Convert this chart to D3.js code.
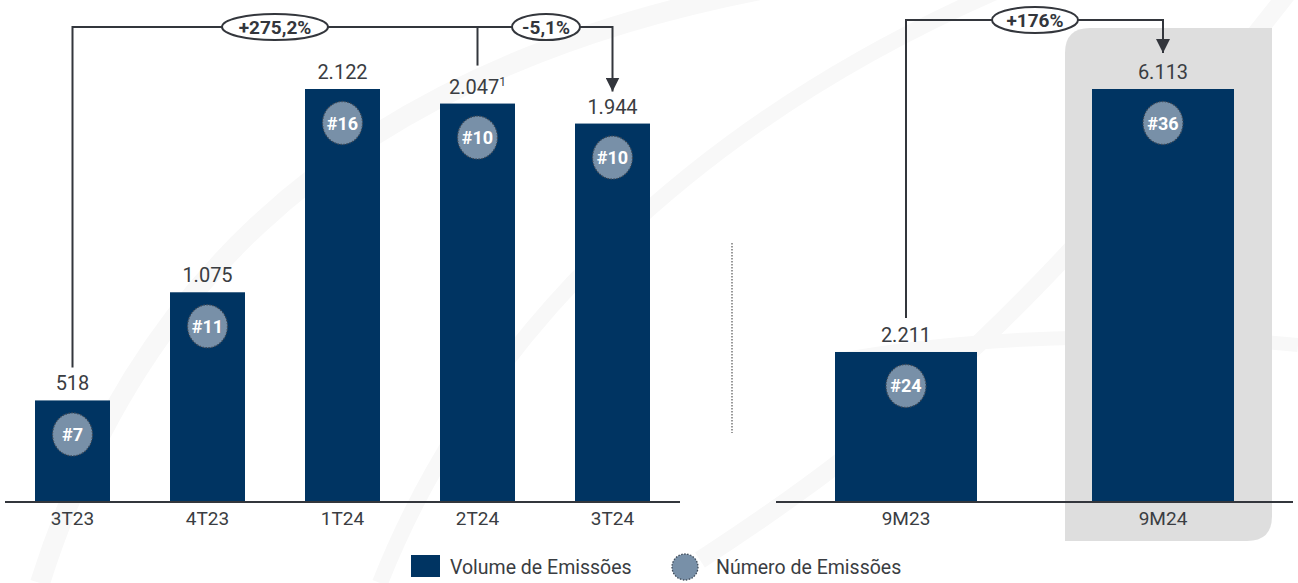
<!DOCTYPE html>
<html lang="pt">
<head>
  <meta charset="UTF-8">
  <title>Volume de Emissões</title>
  <script src="https://d3js.org/d3.v7.min.js"></script>
  <style>
    body { margin: 0; background: #fff; }
    svg text { font-family: Roboto, "Noto Sans", sans-serif; }
  </style>
</head>
<body>
<div id="chart"></div>
<script>
// quarterly data
const quarters = ["3T23", "4T23", "1T24", "2T24", "3T24"];
const quarterVolume = [518, 1075, 2122, 2047, 1944];
const quarterCount = [7, 11, 16, 10, 10];
const quarterLabels = ["518", "1.075", "2.122", "2.047", "1.944"];

// year to date data
const periods = ["9M23", "9M24"];
const periodVolume = [2211, 6113];
const periodCount = [24, 36];
const periodLabels = ["2.211", "6.113"];

const changeLabels = ["+275,2%", "-5,1%", "+176%"];

const W = 1298, H = 583;
const base = 501;
const navy = "#003462", bubble = "#7890a8", ink = "#33363c", txt = "#3a3d42";

const svg = d3.select("#chart").append("svg")
  .attr("width", W)
  .attr("height", H);

// faint decorative swooshes in the background
const bg = svg.append("g").attr("fill", "none").attr("stroke", "#f8f8f8");
bg.append("path").attr("d", "M40,583 C120,330 300,80 760,-10").attr("stroke-width", 20);
bg.append("path").attr("d", "M380,583 C480,330 700,120 1000,-10").attr("stroke-width", 16);
bg.append("path").attr("d", "M700,560 C900,430 1050,300 1298,-20").attr("stroke-width", 18);
bg.append("path").attr("d", "M840,360 C1000,330 1200,335 1298,345").attr("stroke-width", 14);

// highlight box behind 9M24
svg.append("path")
  .attr("d", "M1065,53 Q1065,28 1090,28 L1272,28 L1272,516 Q1272,541 1247,541 L1065,541 Z")
  .attr("fill", "#dedede");

// scales
const xL = d3.scaleBand().domain(quarters).range([5, 680])
  .paddingInner(60 / 135).paddingOuter(30 / 135);
const yL = d3.scaleLinear().domain([0, 2122]).range([base, 89]);
const xR = d3.scaleBand().domain(periods).range([777.5, 1291.5])
  .paddingInner(115 / 257).paddingOuter(57.5 / 257);
const yR = d3.scaleLinear().domain([0, 6113]).range([base, 89]);

function drawPanel(cats, vols, counts, labels, x, y, x0, x1) {
  const g = svg.append("g");
  g.selectAll("rect.bar")
    .data(cats)
    .join("rect")
    .attr("class", "bar")
    .attr("x", d => x(d))
    .attr("width", x.bandwidth())
    .attr("y", (d, i) => y(vols[i]))
    .attr("height", (d, i) => base - y(vols[i]))
    .attr("fill", navy);

  // axis line + category labels
  g.append("line")
    .attr("x1", x0).attr("x2", x1)
    .attr("y1", base + 1).attr("y2", base + 1)
    .attr("stroke", ink).attr("stroke-width", 2);

  const ax = g.append("g")
    .attr("transform", `translate(0,${base + 1})`)
    .call(d3.axisBottom(x).tickSize(0).tickPadding(10));
  ax.select(".domain").remove();
  ax.selectAll("text")
    .attr("font-size", 19)
    .attr("fill", txt)
    .style("font-family", "Roboto, sans-serif");

  // value labels
  g.selectAll("text.val")
    .data(cats)
    .join("text")
    .attr("class", "val")
    .attr("x", d => x(d) + x.bandwidth() / 2)
    .attr("y", (d, i) => y(vols[i]) - 10)
    .attr("text-anchor", "middle")
    .attr("font-size", 20)
    .attr("fill", txt)
    .each(function (d, i) {
      const t = d3.select(this);
      t.append("tspan").text(labels[i]);
      if (d === "2T24") {
        t.append("tspan").text("1").attr("font-size", 12).attr("dy", -8);
      }
    });

  // number of issuances bubbles
  const b = g.selectAll("g.bub")
    .data(cats)
    .join("g")
    .attr("class", "bub")
    .attr("transform", (d, i) => `translate(${x(d) + x.bandwidth() / 2},${y(vols[i]) + 34})`);
  b.append("ellipse")
    .attr("rx", 20).attr("ry", 21.5)
    .attr("fill", bubble)
    .attr("stroke", "#3e4a58")
    .attr("stroke-width", 1.3)
    .attr("stroke-dasharray", "1.5 1.5");
  b.append("text")
    .attr("text-anchor", "middle")
    .attr("dy", 6.5)
    .attr("font-size", 18)
    .attr("font-weight", 700)
    .attr("fill", "#fff")
    .text((d, i) => "#" + counts[i]);
}

drawPanel(quarters, quarterVolume, quarterCount, quarterLabels, xL, yL, 5, 680);
drawPanel(periods, periodVolume, periodCount, periodLabels, xR, yR, 776, 1293);

// dotted divider
svg.append("line")
  .attr("x1", 732).attr("x2", 732)
  .attr("y1", 243).attr("y2", 433)
  .attr("stroke", "#555")
  .attr("stroke-width", 1.2)
  .attr("stroke-dasharray", "1.5 1.5");

// growth brackets
const defs = svg.append("defs");
defs.append("marker")
  .attr("id", "arr")
  .attr("viewBox", "0 0 10 10")
  .attr("refX", 10).attr("refY", 5)
  .attr("markerWidth", 7).attr("markerHeight", 7)
  .attr("markerUnits", "strokeWidth")
  .attr("orient", "auto")
  .append("path").attr("d", "M0,0 L10,5 L0,10 Z").attr("fill", ink);

const cL = d => xL(d) + xL.bandwidth() / 2;
const cR = d => xR(d) + xR.bandwidth() / 2;

const lineG = svg.append("g").attr("fill", "none").attr("stroke", ink).attr("stroke-width", 2);
const topL = 27, topR = 20;
lineG.append("path")
  .attr("d", `M${cL("3T23")},${yL(518) - 33} V${topL} H${cL("3T24")} V${yL(1944) - 32}`)
  .attr("marker-end", "url(#arr)");
lineG.append("path")
  .attr("d", `M${cL("2T24")},${topL} V${yL(2047) - 38}`);
lineG.append("path")
  .attr("d", `M${cR("9M23")},${yR(2211) - 34} V${topR} H${cR("9M24")} V${yR(6113) - 36}`)
  .attr("marker-end", "url(#arr)");

const pills = [
  { cx: 275, cy: topL, rx: 53, t: changeLabels[0] },
  { cx: 546, cy: topL, rx: 34, t: changeLabels[1] },
  { cx: 1035, cy: topR, rx: 43, t: changeLabels[2] }
];
const pg = svg.selectAll("g.pill").data(pills).join("g")
  .attr("class", "pill")
  .attr("transform", d => `translate(${d.cx},${d.cy})`);
pg.append("ellipse")
  .attr("rx", d => d.rx).attr("ry", 13)
  .attr("fill", "#fff").attr("stroke", ink).attr("stroke-width", 2);
pg.append("text")
  .attr("text-anchor", "middle").attr("dy", 6.5)
  .attr("font-size", 19).attr("font-weight", 700)
  .attr("fill", ink)
  .text(d => d.t);

// legend
const lg = svg.append("g");
lg.append("rect").attr("x", 411).attr("y", 555).attr("width", 29).attr("height", 22).attr("fill", navy);
lg.append("text").attr("x", 450).attr("y", 574).attr("font-size", 19.5).attr("fill", txt).text("Volume de Emissões");
lg.append("circle").attr("cx", 685).attr("cy", 567).attr("r", 13)
  .attr("fill", bubble).attr("stroke", "#3e4a58").attr("stroke-width", 1.3).attr("stroke-dasharray", "1.5 1.5");
lg.append("text").attr("x", 716).attr("y", 574).attr("font-size", 19.5).attr("fill", txt).text("Número de Emissões");
</script>
</body>
</html>
